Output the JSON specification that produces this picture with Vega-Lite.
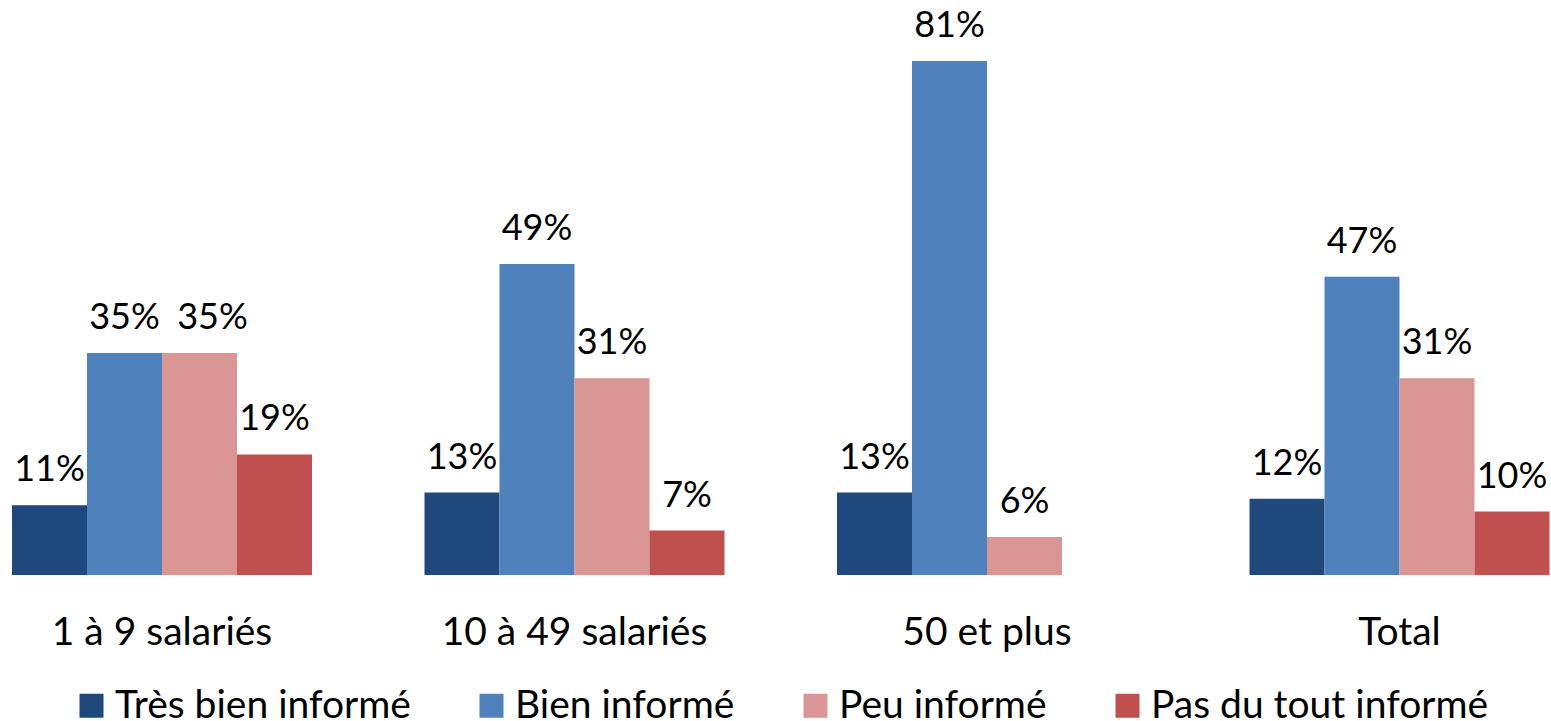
{
  "$schema": "https://vega.github.io/schema/vega-lite/v6.json",
  "autosize": {"type": "none"},
  "width": 1537.5,
  "height": 514,
  "padding": {"left": 12, "top": 61, "right": 1.5, "bottom": 146},
  "background": "white",
  "config": {"view": {"stroke": null}, "font": "Lato"},
  "data": {
    "values": [
      {"groupe": "1 à 9 salariés", "serie": "Très bien informé", "valeur": 0.11},
      {"groupe": "1 à 9 salariés", "serie": "Bien informé", "valeur": 0.35},
      {"groupe": "1 à 9 salariés", "serie": "Peu informé", "valeur": 0.35},
      {"groupe": "1 à 9 salariés", "serie": "Pas du tout informé", "valeur": 0.19},
      {"groupe": "10 à 49 salariés", "serie": "Très bien informé", "valeur": 0.13},
      {"groupe": "10 à 49 salariés", "serie": "Bien informé", "valeur": 0.49},
      {"groupe": "10 à 49 salariés", "serie": "Peu informé", "valeur": 0.31},
      {"groupe": "10 à 49 salariés", "serie": "Pas du tout informé", "valeur": 0.07},
      {"groupe": "50 et plus", "serie": "Très bien informé", "valeur": 0.13},
      {"groupe": "50 et plus", "serie": "Bien informé", "valeur": 0.81},
      {"groupe": "50 et plus", "serie": "Peu informé", "valeur": 0.06},
      {"groupe": "Total", "serie": "Très bien informé", "valeur": 0.12},
      {"groupe": "Total", "serie": "Bien informé", "valeur": 0.47},
      {"groupe": "Total", "serie": "Peu informé", "valeur": 0.31},
      {"groupe": "Total", "serie": "Pas du tout informé", "valeur": 0.10}
    ]
  },
  "encoding": {
    "x": {
      "field": "groupe", "type": "nominal", "sort": null,
      "scale": {"paddingInner": 0.2727, "paddingOuter": 0},
      "axis": {"title": null, "domain": false, "ticks": false, "labelAngle": 0, "labelFontSize": 39, "labelColor": "black", "labelPadding": 38, "labelFont": "Lato", "labelLimit": 0}
    },
    "xOffset": {
      "field": "serie", "type": "nominal",
      "sort": ["Très bien informé", "Bien informé", "Peu informé", "Pas du tout informé"]
    },
    "y": {
      "field": "valeur", "type": "quantitative",
      "scale": {"domain": [0, 0.81], "nice": false, "zero": true},
      "axis": null
    }
  },
  "layer": [
    {
      "mark": {"type": "bar"},
      "encoding": {
        "color": {
          "field": "serie", "type": "nominal",
          "sort": ["Très bien informé", "Bien informé", "Peu informé", "Pas du tout informé"],
          "scale": {"domain": ["Très bien informé", "Bien informé", "Peu informé", "Pas du tout informé"], "range": ["#1F497D", "#4F81BD", "#D99694", "#C0504D"]},
          "legend": {
            "title": null, "orient": "none", "direction": "horizontal",
            "legendX": 60, "legendY": 625,
            "symbolType": "square", "symbolSize": 576, "symbolStrokeWidth": 0,
            "labelFontSize": 39, "labelColor": "black", "labelFont": "Lato",
            "columnPadding": 61, "labelOffset": 4, "labelLimit": 0
          }
        }
      }
    },
    {
      "transform": [{"filter": "!(datum.groupe == '1 à 9 salariés' && datum.serie == 'Peu informé')"}],
      "mark": {"type": "text", "baseline": "alphabetic", "dy": -24, "fontSize": 36, "color": "black", "font": "Lato"},
      "encoding": {
        "text": {"field": "valeur", "type": "quantitative", "format": ".0%"}
      }
    },
    {
      "transform": [{"filter": "datum.groupe == '1 à 9 salariés' && datum.serie == 'Peu informé'"}],
      "mark": {"type": "text", "baseline": "alphabetic", "dy": -24, "dx": 13, "fontSize": 36, "color": "black", "font": "Lato"},
      "encoding": {
        "text": {"field": "valeur", "type": "quantitative", "format": ".0%"}
      }
    }
  ]
}
